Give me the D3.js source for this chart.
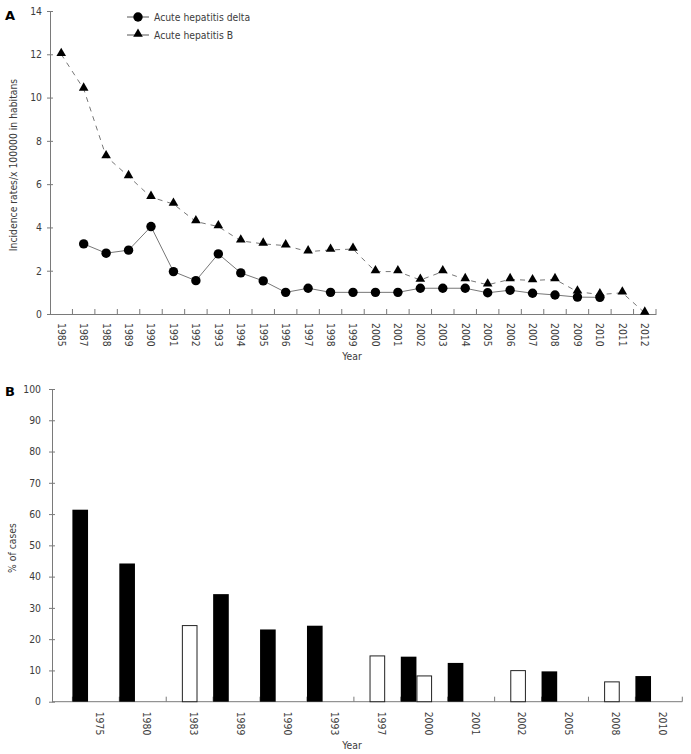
<!DOCTYPE html>
<html>
<head>
<meta charset="utf-8">
<script src="https://cdn.jsdelivr.net/npm/d3@7"></script>
<style>
  body { margin: 0; background: #fff; }
  text { font-family: "DejaVu Sans Condensed", "DejaVu Sans", sans-serif; }
</style>
</head>
<body>
<div id="chart"></div>
<script>
var width = 691;
var height = 754;

// panel A
var lineYears = ["1985", "1987", "1988", "1989", "1990", "1991", "1992", "1993", "1994",
  "1995", "1996", "1997", "1998", "1999", "2000", "2001", "2002", "2003", "2004",
  "2005", "2006", "2007", "2008", "2009", "2010", "2011", "2012"];
var deltaValues = [null, 3.24, 2.81, 2.95, 4.04, 1.96, 1.54, 2.78, 1.9, 1.53, 1.0, 1.19, 1.0,
  1.0, 1.0, 1.0, 1.19, 1.19, 1.19, 0.98, 1.1, 0.96, 0.88, 0.78, 0.77, null, null];
var hbvValues = [12.0, 10.4, 7.28, 6.36, 5.4, 5.08, 4.27, 4.04, 3.38, 3.24, 3.16, 2.88, 2.96,
  3.0, 1.96, 1.96, 1.57, 1.96, 1.6, 1.35, 1.6, 1.55, 1.6, 1.03, 0.9, 0.98, 0.05];
var lineYTicks = [0, 2, 4, 6, 8, 10, 12, 14];

// panel B
var barYears = ["1975", "1980", "1983", "1989", "1990", "1993", "1997", "2000", "2001",
  "2002", "2005", "2008", "2010"];
var blackValues = [61.4, 44.2, null, 34.4, 23.1, 24.3, null, 14.4, 12.4, null, 9.7, null, 8.2];
var whiteValues = [null, null, 24.5, null, null, null, 14.8, 8.4, null, 10.1, null, 6.5, null];
var barYTicks = [0, 10, 20, 30, 40, 50, 60, 70, 80, 90, 100];

var axisColor = "#7a7a7a";
var textColor = "#3c3c3c";
var fontSize = "10.3px";

function createSVG() {
  return d3.select("#chart")
    .append("svg")
    .attr("width", width)
    .attr("height", height);
}

function styleAxis(g) {
  g.select(".domain").attr("stroke", axisColor);
  g.selectAll(".tick line").attr("stroke", axisColor);
  g.selectAll("text")
    .attr("fill", textColor)
    .style("font-size", fontSize)
    .style("font-family", "DejaVu Sans Condensed, DejaVu Sans, sans-serif");
}

function drawLinePanel(svg) {
  var x = d3.scaleBand().domain(lineYears).range([50, 656]);
  var y = d3.scaleLinear().domain([0, 14]).range([314, 11]);

  // y axis, ticks crossing the line
  var yAxis = svg.append("g")
    .attr("transform", "translate(50,0)")
    .call(d3.axisLeft(y).tickValues(lineYTicks).tickSizeInner(3).tickSizeOuter(0).tickPadding(5));
  yAxis.selectAll(".tick line").attr("x2", -3).attr("x1", 3);
  styleAxis(yAxis);

  // x axis: labels at band centres, ticks at band edges
  var xAxis = svg.append("g")
    .attr("transform", "translate(0,314)")
    .call(d3.axisBottom(x).tickSize(0).tickSizeOuter(0));
  xAxis.selectAll("text")
    .attr("transform", "rotate(90)")
    .attr("x", 9)
    .attr("y", 0)
    .attr("dy", "0.35em")
    .style("text-anchor", "start");
  styleAxis(xAxis);

  var edges = lineYears.map(function(d) { return x(d); }).concat([x.range()[1]]);
  svg.append("g").selectAll("line")
    .data(edges.slice(1))
    .enter()
    .append("line")
    .attr("x1", function(d) { return d; })
    .attr("x2", function(d) { return d; })
    .attr("y1", 314)
    .attr("y2", 309)
    .attr("stroke", axisColor);

  var cx = function(d, i) { return x(lineYears[i]) + x.bandwidth() / 2; };

  var line = d3.line()
    .defined(function(d) { return d != null; })
    .x(cx)
    .y(function(d) { return y(d); });

  svg.append("path")
    .datum(hbvValues)
    .attr("d", line)
    .attr("fill", "none")
    .attr("stroke", "#777")
    .attr("stroke-width", 1)
    .attr("stroke-dasharray", "5,5");

  svg.append("path")
    .datum(deltaValues)
    .attr("d", line)
    .attr("fill", "none")
    .attr("stroke", "#777")
    .attr("stroke-width", 1);

  var tri = d3.symbol().type(d3.symbolTriangle).size(40);

  hbvValues.forEach(function(d, i) {
    if (d == null) return;
    svg.append("path")
      .attr("d", tri)
      .attr("transform", "translate(" + cx(d, i) + "," + (y(d) - 1) + ")")
      .attr("fill", "#000");
  });

  deltaValues.forEach(function(d, i) {
    if (d == null) return;
    svg.append("circle")
      .attr("cx", cx(d, i))
      .attr("cy", y(d))
      .attr("r", 4.7)
      .attr("fill", "#000");
  });

  // legend
  var legend = svg.append("g").attr("transform", "translate(127,17)");
  legend.append("line").attr("x1", 0).attr("x2", 22).attr("y1", 0).attr("y2", 0).attr("stroke", "#555");
  legend.append("circle").attr("cx", 11).attr("cy", 0).attr("r", 4.7).attr("fill", "#000");
  legend.append("text").attr("x", 27).attr("y", 0).attr("dy", "0.35em")
    .style("font-size", fontSize).attr("fill", textColor).text("Acute hepatitis delta");
  legend.append("line").attr("x1", 0).attr("x2", 22).attr("y1", 18).attr("y2", 18).attr("stroke", "#555");
  legend.append("path").attr("d", tri).attr("transform", "translate(11,17)").attr("fill", "#000");
  legend.append("text").attr("x", 27).attr("y", 18).attr("dy", "0.35em")
    .style("font-size", fontSize).attr("fill", textColor).text("Acute hepatitis B");

  // titles
  svg.append("text")
    .attr("transform", "translate(17,165) rotate(-90)")
    .style("text-anchor", "middle")
    .style("font-size", fontSize)
    .attr("fill", textColor)
    .text("Incidence rates/x 100000 in habitans");

  svg.append("text")
    .attr("x", 352).attr("y", 360)
    .style("text-anchor", "middle")
    .style("font-size", fontSize)
    .attr("fill", textColor)
    .text("Year");

  svg.append("text")
    .attr("x", 5).attr("y", 20)
    .style("font-size", "13px")
    .style("font-weight", "bold")
    .style("font-family", "DejaVu Sans, sans-serif")
    .attr("fill", "#000")
    .text("A");
}

function drawBarPanel(svg) {
  var x = d3.scaleBand().domain(barYears).range([72.4, 682.3]);
  var sub = d3.scaleBand().domain(["black", "white"]).range([0, x.bandwidth() * 2 / 3]);
  var y = d3.scaleLinear().domain([0, 100]).range([701.7, 389]);

  var yAxis = svg.append("g")
    .attr("transform", "translate(52,0)")
    .call(d3.axisLeft(y).tickValues(barYTicks).tickSizeInner(3).tickSizeOuter(0).tickPadding(8));
  yAxis.selectAll(".tick line").attr("x2", -3).attr("x1", 3);
  styleAxis(yAxis);

  // axis line starts at the y axis
  svg.append("line")
    .attr("x1", 52).attr("x2", x.range()[1])
    .attr("y1", y(0)).attr("y2", y(0))
    .attr("stroke", axisColor);

  var edges = barYears.map(function(d) { return x(d); }).concat([x.range()[1]]);
  svg.append("g").selectAll("line")
    .data(edges)
    .enter()
    .append("line")
    .attr("x1", function(d) { return d; })
    .attr("x2", function(d) { return d; })
    .attr("y1", y(0))
    .attr("y2", y(0) - 5)
    .attr("stroke", axisColor);

  var xAxis = svg.append("g")
    .attr("transform", "translate(4," + y(0) + ")")
    .call(d3.axisBottom(x).tickSize(0).tickSizeOuter(0));
  xAxis.select(".domain").remove();
  xAxis.selectAll("text")
    .attr("transform", "rotate(90)")
    .attr("x", 10)
    .attr("y", 0)
    .attr("dy", "0.35em")
    .style("text-anchor", "start");
  styleAxis(xAxis);

  barYears.forEach(function(yr, i) {
    if (blackValues[i] != null) {
      svg.append("rect")
        .attr("x", x(yr) + sub("black"))
        .attr("y", y(blackValues[i]))
        .attr("width", sub.bandwidth())
        .attr("height", y(0) - y(blackValues[i]))
        .attr("fill", "#000");
    }
    if (whiteValues[i] != null) {
      svg.append("rect")
        .attr("x", x(yr) + sub("white") + 0.5)
        .attr("y", y(whiteValues[i]) + 0.5)
        .attr("width", sub.bandwidth() - 1)
        .attr("height", y(0) - y(whiteValues[i]) - 0.5)
        .attr("fill", "#fff")
        .attr("stroke", "#222")
        .attr("stroke-width", 1);
    }
  });

  svg.append("text")
    .attr("transform", "translate(16,548) rotate(-90)")
    .style("text-anchor", "middle")
    .style("font-size", fontSize)
    .attr("fill", textColor)
    .text("% of cases");

  svg.append("text")
    .attr("x", 352).attr("y", 749)
    .style("text-anchor", "middle")
    .style("font-size", fontSize)
    .attr("fill", textColor)
    .text("Year");

  svg.append("text")
    .attr("x", 5).attr("y", 396)
    .style("font-size", "13px")
    .style("font-weight", "bold")
    .style("font-family", "DejaVu Sans, sans-serif")
    .attr("fill", "#000")
    .text("B");
}

function main() {
  var svg = createSVG();
  drawLinePanel(svg);
  drawBarPanel(svg);
}

window.onload = function() {
  main();
};
</script>
</body>
</html>
